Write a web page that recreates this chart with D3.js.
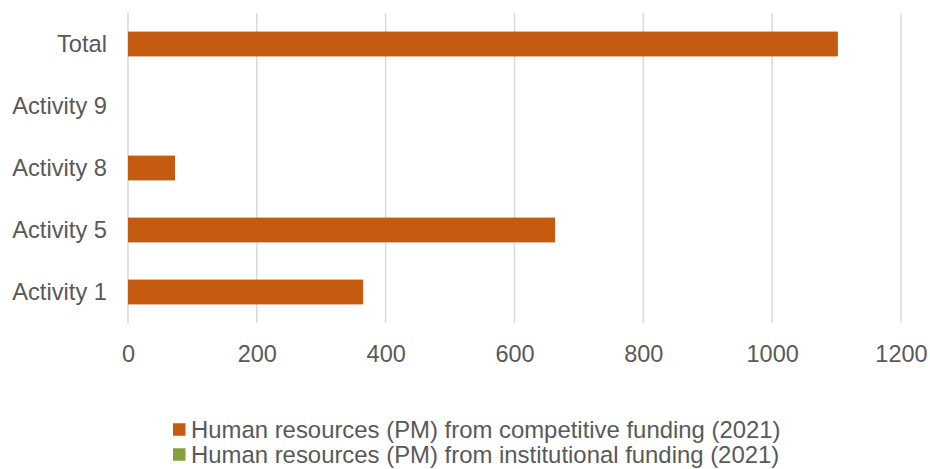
<!DOCTYPE html>
<html><head><meta charset="utf-8">
<script src="https://cdn.jsdelivr.net/npm/d3@7"></script>
<style>body{margin:0;background:#fff}svg{display:block;font-family:"Liberation Sans",Arial,sans-serif}</style>
</head><body>
<svg id="c" width="930" height="469"></svg>
<script>
const categories = ["Total","Activity 9","Activity 8","Activity 5","Activity 1"];
const competitive = [1102, 0, 73, 663, 365];
const institutional = [0, 0, 0, 0, 0];
const seriesNames = ["Human resources (PM) from competitive funding (2021)","Human resources (PM) from institutional funding (2021)"];
const xTicks = [0,200,400,600,800,1000,1200];
const colors = ["#C55A11","#82A03C"];

const svg = d3.select("#c");
const m = {l:128, r:29, t:13, b:146};
const W = 930, H = 469;
const x = d3.scaleLinear().domain([0,1200]).range([m.l, W - m.r]);
const y = d3.scaleBand().domain(categories).range([m.t, H - m.b]).padding(0);
const bh = y.bandwidth() * 0.4;

// gridlines
svg.append("g").selectAll("line").data(xTicks).join("line")
  .attr("x1", d => x(d)).attr("x2", d => x(d))
  .attr("y1", m.t).attr("y2", H - m.b)
  .attr("stroke", "#d9d9d9").attr("stroke-width", 1.5);

// bars (series overlapped)
[competitive, institutional].forEach((vals, si) => {
  svg.append("g").selectAll("rect").data(categories).join("rect")
    .attr("x", x(0))
    .attr("y", d => y(d) + (y.bandwidth() - bh) / 2)
    .attr("width", (d, i) => x(vals[i]) - x(0))
    .attr("height", bh)
    .attr("fill", colors[si])
    .attr("display", (d, i) => vals[i] > 0 ? null : "none");
});

// x axis labels
const xa = svg.append("g").attr("transform", `translate(0,${H - m.b + 12})`)
  .call(d3.axisBottom(x).tickValues(xTicks).tickFormat(d3.format("d")).tickSize(0).tickPadding(10));
xa.select(".domain").remove();
xa.selectAll("text").attr("font-size", 23.5).attr("fill", "#595959").attr("font-family", "Liberation Sans, Arial, sans-serif");

// y axis labels
const ya = svg.append("g").attr("transform", `translate(${m.l - 21},0)`)
  .call(d3.axisLeft(y).tickSize(0).tickPadding(0));
ya.select(".domain").remove();
ya.selectAll("text").attr("font-size", 23.7).attr("fill", "#595959").attr("font-family", "Liberation Sans, Arial, sans-serif");

// legend
const lg = svg.append("g");
seriesNames.forEach((n, i) => {
  const ly = 429.5 + i * 25;
  lg.append("rect").attr("x", 173).attr("y", ly - 6.25).attr("width", 12.5).attr("height", 12.5).attr("fill", colors[i]);
  lg.append("text").attr("x", 191).attr("y", ly).attr("dy", "0.35em")
    .attr("font-size", 23.9).attr("fill", "#595959").text(n);
});
</script>
</body></html>
